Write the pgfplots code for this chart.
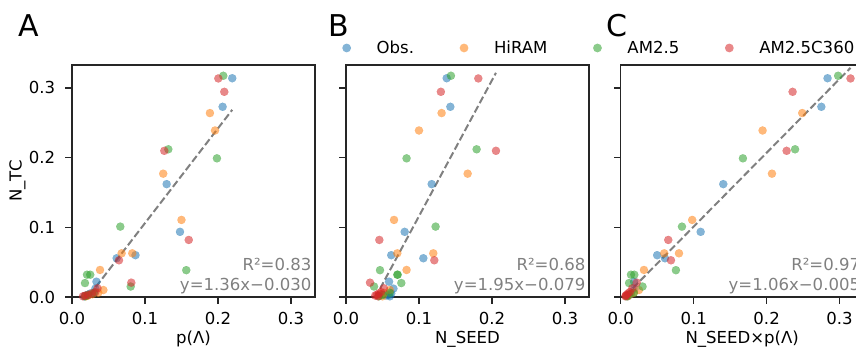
\documentclass[border=0pt]{standalone}
\usepackage{fontspec}
\setmainfont{DejaVu Sans}
\usepackage{pgfplots}
\pgfplotsset{compat=1.18}
\definecolor{cobs}{HTML}{1F77B4}
\definecolor{chiram}{HTML}{FF7F0E}
\definecolor{cam}{HTML}{2CA02C}
\definecolor{cc}{HTML}{D62728}
\definecolor{spine}{gray}{0.15}
\newcommand{\fs}{\fontsize{12.4pt}{14pt}\selectfont}
\pgfplotsset{
  panel/.style={
    scale only axis, width=182.25pt, height=174pt,
    xmin=0, xmax=0.333, ymin=0, ymax=0.333,
    xtick={0,0.1,0.2,0.3}, ytick={0,0.1,0.2,0.3},
    xticklabels={0.0,0.1,0.2,0.3},
    tick align=outside, tick pos=left,
    major tick length=5pt,
    tick style={spine, line width=1.1pt},
    axis line style={spine, line width=1.1pt},
    tick label style={font=\fs, text=black},
    xticklabel style={anchor=base, yshift=-15.75pt, inner sep=0pt},
    yticklabel style={anchor=east, xshift=-7.5pt, inner sep=0pt},
    label style={font=\fs},
    xlabel style={at={(axis description cs:0.5,-0.2026)}, anchor=base},
    ylabel style={at={(axis description cs:-0.2069,0.5)}, anchor=base},
  },
  sc/.style={only marks, mark=*, mark size=3.1pt,
    mark options={fill=#1, draw=#1, line width=0.01pt, opacity=0.55},
    legend image code/.code={\fill[#1!55!white, draw=none] (0pt,0pt) circle (3.3pt);}},
  fitline/.style={black!50, dash pattern=on 5.5pt off 2.4pt, line width=1.5pt, forget plot},
}
\newcommand{\annot}[2]{%
  \node[anchor=base east, inner sep=0pt, text=black!50, font=\fs, xshift=-2.5pt, yshift=19.5pt] at (rel axis cs:1,0) {#1};
  \node[anchor=base east, inner sep=0pt, text=black!50, font=\fs, xshift=-2.5pt, yshift=4.7pt] at (rel axis cs:1,0) {#2};
}
\begin{document}
\begin{tikzpicture}
% ---------------- Panel A ----------------
\begin{axis}[panel, at={(54pt,38.25pt)}, anchor=south west,
  yticklabels={0.0,0.1,0.2,0.3},
  xlabel={p(Λ)}, ylabel={N\_TC}]
\addplot[sc=cobs] coordinates {(0.2196,0.314) (0.2064,0.273) (0.1297,0.162) (0.148,0.0935) (0.087,0.060) (0.0612,0.0556) (0.0335,0.022) (0.032,0.012) (0.025,0.005) (0.022,0.003) (0.019,0.002) (0.017,0.001)};
\addplot[sc=chiram] coordinates {(0.189,0.264) (0.196,0.239) (0.125,0.177) (0.150,0.1106) (0.068,0.0627) (0.0826,0.0627) (0.0384,0.0388) (0.043,0.010) (0.036,0.006) (0.028,0.004) (0.022,0.002) (0.019,0.001)};
\addplot[sc=cam] coordinates {(0.2073,0.3175) (0.132,0.212) (0.1986,0.199) (0.0662,0.101) (0.1566,0.0385) (0.0206,0.032) (0.025,0.032) (0.0178,0.020) (0.0804,0.015) (0.030,0.006) (0.022,0.003) (0.018,0.001)};
\addplot[sc=cc] coordinates {(0.2005,0.3137) (0.2087,0.2945) (0.1265,0.2098) (0.160,0.0819) (0.0644,0.0527) (0.0813,0.0206) (0.035,0.0125) (0.032,0.007) (0.027,0.005) (0.022,0.003) (0.018,0.002) (0.015,0.001)};
\addplot[fitline] coordinates {(0.015,-0.0096) (0.2196,0.26866)};
\annot{R²=0.83}{y=1.36x−0.030}
\end{axis}
% ---------------- Panel B ----------------
\begin{axis}[panel, at={(259.5pt,38.25pt)}, anchor=south west,
  yticklabels={}, xlabel={N\_SEED},
  legend columns=4,
  legend style={at={(-0.01646,1.0733)}, anchor=west, draw=none, fill=none,
    inner sep=0pt, font=\fs, nodes={inner sep=0pt},
    /tikz/every odd column/.append style={column sep=19.2pt},
    /tikz/every even column/.append style={column sep=34.2pt}}]
\addplot[sc=cobs] coordinates {(0.138,0.314) (0.143,0.273) (0.1174,0.162) (0.0804,0.0935) (0.062,0.060) (0.106,0.0556) (0.059,0.022) (0.065,0.012) (0.062,0.005) (0.058,0.003) (0.055,0.002) (0.060,0.001)};
\addlegendentry{Obs.}
\addplot[sc=chiram] coordinates {(0.131,0.264) (0.100,0.239) (0.1667,0.177) (0.0658,0.1106) (0.1196,0.0627) (0.0703,0.0627) (0.083,0.0388) (0.060,0.010) (0.052,0.006) (0.048,0.004) (0.045,0.002) (0.050,0.001)};
\addlegendentry{HiRAM}
\addplot[sc=cam] coordinates {(0.1438,0.3175) (0.179,0.212) (0.083,0.199) (0.1228,0.101) (0.0466,0.0385) (0.0703,0.032) (0.0708,0.032) (0.0758,0.020) (0.0384,0.015) (0.060,0.006) (0.050,0.003) (0.045,0.001)};
\addlegendentry{AM2.5}
\addplot[sc=cc] coordinates {(0.1813,0.3137) (0.130,0.2945) (0.2055,0.2098) (0.0457,0.0819) (0.121,0.0527) (0.0329,0.0206) (0.052,0.0125) (0.048,0.007) (0.045,0.005) (0.042,0.003) (0.040,0.002) (0.044,0.001)};
\addlegendentry{AM2.5C360}
\addplot[fitline] coordinates {(0.0329,-0.01484) (0.2055,0.32173)};
\annot{R²=0.68}{y=1.95x−0.079}
\end{axis}
% ---------------- Panel C ----------------
\begin{axis}[panel, at={(465.5pt,38.25pt)}, anchor=south west,
  yticklabels={}, xlabel={N\_SEED×p(Λ)}]
\addplot[sc=cobs] coordinates {(0.2835,0.314) (0.275,0.273) (0.1406,0.162) (0.1096,0.0935) (0.050,0.060) (0.0607,0.0556) (0.0184,0.022) (0.019,0.012) (0.014,0.005) (0.012,0.003) (0.0097,0.002) (0.0095,0.001)};
\addplot[sc=chiram] coordinates {(0.2488,0.264) (0.1945,0.239) (0.2073,0.177) (0.098,0.1106) (0.0799,0.0627) (0.0597,0.0627) (0.0319,0.0388) (0.025,0.010) (0.018,0.006) (0.0135,0.004) (0.010,0.002) (0.0095,0.001)};
\addplot[sc=cam] coordinates {(0.298,0.3175) (0.239,0.212) (0.1675,0.199) (0.084,0.101) (0.0757,0.0385) (0.0141,0.032) (0.0187,0.032) (0.0115,0.020) (0.030,0.015) (0.018,0.006) (0.011,0.003) (0.008,0.001)};
\addplot[sc=cc] coordinates {(0.315,0.3137) (0.2356,0.2945) (0.2274,0.2098) (0.0652,0.0819) (0.0689,0.0527) (0.022,0.0206) (0.016,0.0125) (0.0125,0.007) (0.010,0.005) (0.008,0.003) (0.007,0.002) (0.0065,0.001)};
\addplot[fitline] coordinates {(0.0065,0.0019) (0.315,0.3289)};
\annot{R²=0.97}{y=1.06x−0.005}
\end{axis}
% panel letters
\node[anchor=base west, inner sep=0pt, font=\fontsize{22.5pt}{26pt}\selectfont] at (13.5pt,233.25pt) {A};
\node[anchor=base west, inner sep=0pt, font=\fontsize{22.5pt}{26pt}\selectfont] at (246.5pt,233.25pt) {B};
\node[anchor=base west, inner sep=0pt, font=\fontsize{22.5pt}{26pt}\selectfont] at (454.5pt,233.25pt) {C};
\pgfresetboundingbox
\path[use as bounding box] (0pt,0pt) rectangle (642pt,261pt);
\end{tikzpicture}
\end{document}
